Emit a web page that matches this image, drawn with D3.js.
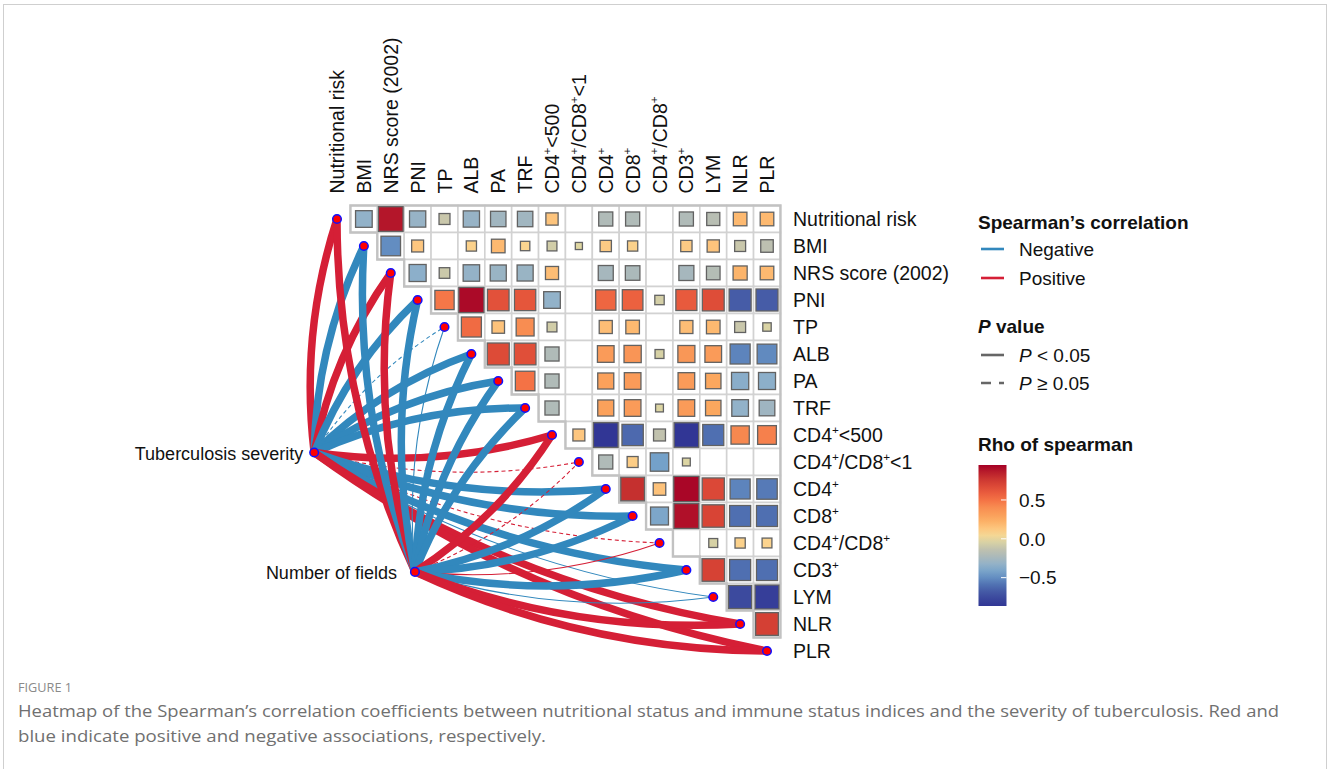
<!DOCTYPE html>
<html>
<head>
<meta charset="utf-8">
<script src="https://cdn.jsdelivr.net/npm/d3@7"></script>
<style>
  body { margin: 0; background: #fff; }
  svg { display: block; font-family: "Liberation Sans", Arial, sans-serif; }
</style>
</head>
<body>
<svg width="1328" height="769"></svg>
<script>
// variables (rows top to bottom, columns left to right); ^...^ marks superscript
const vars = ['Nutritional risk', 'BMI', 'NRS score (2002)', 'PNI', 'TP', 'ALB', 'PA', 'TRF',
  'CD4^+^<500', 'CD4^+^/CD8^+^<1', 'CD4^+', 'CD8^+', 'CD4^+^/CD8^+', 'CD3^+', 'LYM', 'NLR', 'PLR'];

// upper triangle of spearman rho, row i holds columns i+1 .. 16 (null = not shown)
const rhoRows = [
  [-0.33, 0.88, -0.31, -0.10, -0.31, -0.27, -0.27, 0.14, null, -0.21, -0.21, null, -0.21, -0.17, 0.19, 0.19],
  [-0.50, 0.13, null, 0.08, 0.19, 0.06, -0.07, -0.02, 0.11, 0.08, null, 0.11, 0.14, -0.10, -0.15],
  [-0.35, -0.09, -0.32, -0.30, -0.30, 0.17, null, -0.25, -0.23, null, -0.25, -0.19, 0.21, 0.19],
  [0.48, 0.92, 0.64, 0.62, -0.33, null, 0.55, 0.57, -0.06, 0.60, 0.66, -0.67, -0.67],
  [0.53, 0.15, 0.40, -0.07, null, 0.17, 0.19, null, 0.17, 0.19, -0.10, -0.04],
  [0.67, 0.65, -0.21, null, 0.33, 0.36, -0.05, 0.35, 0.33, -0.53, -0.51],
  [0.50, -0.21, null, 0.30, 0.33, null, 0.33, 0.27, -0.36, -0.35],
  [-0.21, null, 0.30, 0.33, -0.03, 0.33, 0.27, -0.33, -0.28],
  [0.13, -0.88, -0.62, -0.13, -0.87, -0.60, 0.42, 0.45],
  [-0.21, 0.10, -0.43, -0.03, null, null, null],
  [0.80, 0.15, 0.93, 0.68, -0.53, -0.56],
  [-0.40, 0.90, 0.70, -0.60, -0.60],
  [null, -0.05, 0.08, 0.07],
  [0.71, -0.60, -0.60],
  [-0.75, -0.82],
  [0.72]
];

// outcome variables linked to every index
const sources = ['Tuberculosis severity', 'Number of fields'];
const severityRho = [0.34, -0.31, 0.35, -0.33, -0.06, -0.32, -0.30, -0.31, 0.29, 0.05, -0.33, -0.30, 0.04, -0.32, -0.12, 0.33, 0.34];
const severityP   = [0.001, 0.001, 0.001, 0.001, 0.21, 0.001, 0.001, 0.001, 0.001, 0.29, 0.001, 0.001, 0.38, 0.001, 0.012, 0.001, 0.001];
const fieldsRho   = [0.32, -0.30, 0.33, -0.31, -0.11, -0.30, -0.29, -0.30, 0.27, 0.06, -0.31, -0.29, 0.10, -0.31, -0.13, 0.31, 0.32];
const fieldsP     = [0.001, 0.001, 0.001, 0.001, 0.02, 0.001, 0.001, 0.001, 0.001, 0.18, 0.001, 0.001, 0.04, 0.001, 0.01, 0.001, 0.001];

const rhoTicks = [-0.5, 0, 0.5];
const rhoLimits = [-0.865, 0.95];

const svg = d3.select('svg');

// frame
svg.append('rect').attr('x', 3.5).attr('y', 4.5).attr('width', 1323).attr('height', 800)
  .attr('fill', 'none').attr('stroke', '#cfcfcf');

const x = d3.scaleLinear().domain([0, vars.length - 1]).range([337, 767]);
const y = d3.scaleLinear().domain([0, vars.length - 1]).range([219, 651]);
const cw = x(1) - x(0), ch = y(1) - y(0);

const color = d3.scaleLinear()
  .domain([-0.87, -0.72, -0.58, -0.45, -0.34, -0.24, -0.12, 0, 0.06, 0.15, 0.25, 0.4, 0.5, 0.6, 0.7, 0.8, 0.95])
  .range(['#313695', '#3f4fa0', '#5274b4', '#6e9dc9', '#8fb1ca', '#a9b8bb', '#c3c3ad', '#e4dba0', '#fbd590',
    '#fdc27a', '#fcab60', '#f88d52', '#f47245', '#e85a3d', '#d84435', '#c5302f', '#a50026'])
  .clamp(true);
const side = d3.scaleSqrt().domain([0, 1]).range([4, 26]);
const red = '#d51f36', blue = '#3288bd';

// label with superscript parts
function richText(sel, label, size) {
  label.split('^').forEach((part, k) => {
    if (!part) return;
    if (k % 2 === 1) {
      sel.append('tspan').attr('font-size', size * 0.6).attr('dy', -size * 0.42).text(part);
    } else {
      sel.append('tspan').attr('dy', k > 0 ? size * 0.42 : null).text(part);
    }
  });
}

// links
const srcPos = [[x(-0.85), y(8.65)], [x(2.9), y(13.07)]];
const links = [];
[[severityRho, severityP], [fieldsRho, fieldsP]].forEach(([rs, ps], s) => {
  rs.forEach((r, i) => links.push({s, i, r, p: ps[i]}));
});
const midY = (y(0) + y(vars.length - 1)) / 2;
function linkPath(d) {
  const [sx, sy] = srcPos[d.s];
  const tx = x(d.i), ty = y(d.i);
  const dx = tx - sx, dy = ty - sy, len = Math.hypot(dx, dy);
  const k = 0.11 * (ty < midY ? 1 : -1);
  const cx = (sx + tx) / 2 + dy * k, cy = (sy + ty) / 2 - dx * k;
  return `M${sx},${sy}Q${cx},${cy} ${tx},${ty}`;
}
svg.append('g').selectAll('path').data(links).join('path')
  .attr('d', linkPath)
  .attr('fill', 'none')
  .attr('stroke', d => d.r < 0 ? blue : red)
  .attr('stroke-width', d => Math.abs(d.r) >= 0.2 ? 7.5 : 1.1)
  .attr('stroke-dasharray', d => d.p >= 0.05 ? '4,3' : null);

// heatmap grid
const cells = [];
rhoRows.forEach((row, i) => row.forEach((r, k) => cells.push({i, j: i + 1 + k, r})));
const grid = svg.append('g');
grid.selectAll('rect').data(cells).join('rect')
  .attr('x', d => x(d.j) - cw / 2).attr('y', d => y(d.i) - ch / 2)
  .attr('width', cw).attr('height', ch)
  .attr('fill', '#fff').attr('stroke', '#d2d2d2').attr('stroke-width', 1.6);

// outline of the triangle
const n = vars.length;
let outline = `M${x(1) - cw / 2},${y(0) - ch / 2}H${x(n - 1) + cw / 2}V${y(n - 2) + ch / 2}`;
for (let i = n - 2; i >= 0; i--) {
  outline += `H${x(i + 1) - cw / 2}V${y(i) - ch / 2}`;
}
grid.append('path').attr('d', outline + 'Z').attr('fill', 'none')
  .attr('stroke', '#c2c2c2').attr('stroke-width', 2.4);

grid.selectAll('rect.sq').data(cells.filter(d => d.r !== null)).join('rect')
  .attr('class', 'sq')
  .attr('x', d => x(d.j) - side(Math.abs(d.r)) / 2)
  .attr('y', d => y(d.i) - side(Math.abs(d.r)) / 2)
  .attr('width', d => side(Math.abs(d.r)))
  .attr('height', d => side(Math.abs(d.r)))
  .attr('fill', d => color(d.r))
  .attr('stroke', '#626262').attr('stroke-width', 1.3);

// nodes
const nodes = vars.map((v, i) => [x(i), y(i)]).concat(srcPos);
svg.append('g').selectAll('circle').data(nodes).join('circle')
  .attr('cx', d => d[0]).attr('cy', d => d[1]).attr('r', 4.3)
  .attr('fill', '#ff0000').attr('stroke', '#1010ff').attr('stroke-width', 1.5);

// axis labels
const fs = 19.5;
vars.forEach((v, i) => {
  const t = svg.append('text').attr('x', 793).attr('y', y(i)).attr('dy', '0.36em')
    .attr('font-size', fs).attr('fill', '#111');
  richText(t, v, fs);
  const c = svg.append('text')
    .attr('transform', `translate(${x(i)},${y(0) - ch / 2 - 12})rotate(-90)`)
    .attr('dy', '0.36em').attr('font-size', fs).attr('fill', '#111');
  richText(c, v, fs);
});

// source labels
const srcGap = [11, 18];
sources.forEach((s, k) => {
  svg.append('text').attr('x', srcPos[k][0] - srcGap[k]).attr('y', srcPos[k][1] + 1)
    .attr('dy', '0.36em').attr('text-anchor', 'end').attr('font-size', 18).attr('fill', '#111')
    .text(s);
});

// legend
const lg = svg.append('g').attr('font-size', 19).attr('fill', '#111');
lg.append('text').attr('x', 978).attr('y', 229).attr('font-weight', 'bold').text('Spearman\u2019s correlation');
[['Negative', blue, 249], ['Positive', red, 278]].forEach(([t, c, yy]) => {
  lg.append('line').attr('x1', 981).attr('x2', 1004).attr('y1', yy).attr('y2', yy)
    .attr('stroke', c).attr('stroke-width', 2.6);
  lg.append('text').attr('x', 1019).attr('y', yy).attr('dy', '0.36em').text(t);
});
const pt = lg.append('text').attr('x', 978).attr('y', 333).attr('font-weight', 'bold');
pt.append('tspan').attr('font-style', 'italic').text('P');
pt.append('tspan').text(' value');
[['< 0.05', null, 355], ['\u2265 0.05', '10,8', 383]].forEach(([t, dash, yy]) => {
  lg.append('line').attr('x1', 981).attr('x2', 1004).attr('y1', yy).attr('y2', yy)
    .attr('stroke', '#666').attr('stroke-width', 2.6).attr('stroke-dasharray', dash);
  const tt = lg.append('text').attr('x', 1019).attr('y', yy).attr('dy', '0.36em');
  tt.append('tspan').attr('font-style', 'italic').text('P');
  tt.append('tspan').text(' ' + t);
});
lg.append('text').attr('x', 978).attr('y', 451).attr('font-weight', 'bold').text('Rho of spearman');

// colour bar
const barY = d3.scaleLinear().domain(rhoLimits).range([606, 465]);
const grad = svg.append('defs').append('linearGradient').attr('id', 'rhoGrad')
  .attr('x1', 0).attr('x2', 0).attr('y1', 1).attr('y2', 0);
d3.range(0, 1.0001, 0.05).forEach(t => {
  const v = rhoLimits[0] + t * (rhoLimits[1] - rhoLimits[0]);
  grad.append('stop').attr('offset', t).attr('stop-color', color(v));
});
lg.append('rect').attr('x', 978.5).attr('y', barY(rhoLimits[1])).attr('width', 28)
  .attr('height', barY(rhoLimits[0]) - barY(rhoLimits[1])).attr('fill', 'url(#rhoGrad)');
const fmt = d3.format('.1f');
rhoTicks.forEach(v => {
  lg.append('line').attr('x1', 1001).attr('x2', 1006.5).attr('y1', barY(v)).attr('y2', barY(v))
    .attr('stroke', '#fff').attr('stroke-width', 1);
  lg.append('text').attr('x', 1019).attr('y', barY(v)).attr('dy', '0.36em').text(fmt(v));
});

// caption
const cap = svg.append('g').attr('font-family', '"Open Sans", sans-serif').attr('fill', '#707070');
cap.append('text').attr('x', 18).attr('y', 692).attr('font-size', 12).attr('textLength', 54)
  .attr('lengthAdjust', 'spacingAndGlyphs').attr('fill', '#8a8a8a').text('FIGURE 1');
cap.append('text').attr('x', 18).attr('y', 717).attr('font-size', 16.5).attr('textLength', 1261)
  .attr('lengthAdjust', 'spacingAndGlyphs')
  .text('Heatmap of the Spearman\u2019s correlation coefficients between nutritional status and immune status indices and the severity of tuberculosis. Red and');
cap.append('text').attr('x', 18).attr('y', 742).attr('font-size', 16.5).attr('textLength', 528)
  .attr('lengthAdjust', 'spacingAndGlyphs')
  .text('blue indicate positive and negative associations, respectively.');
</script>
</body>
</html>
